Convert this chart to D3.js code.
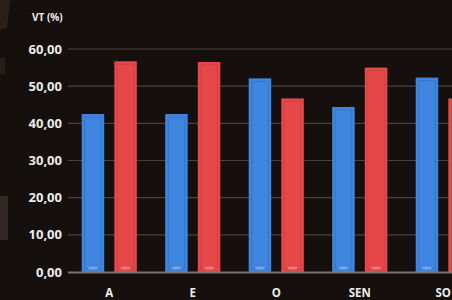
<!DOCTYPE html>
<html>
<head>
<meta charset="utf-8">
<script src="https://d3js.org/d3.v7.min.js"></script>
<style>
  html, body { margin: 0; padding: 0; background: #15100d; overflow: hidden; }
  svg { display: block; }
</style>
</head>
<body>
<div id="chart"></div>
<script>
// chart data
const categories = ["A", "E", "O", "SEN", "SO"];
const seriesNames = ["s1", "s2"];
const blueValues = [42.5, 42.5, 52.1, 44.4, 52.3];
const redValues = [56.7, 56.5, 46.7, 55.0, 46.7];
const yTicks = [0, 10, 20, 30, 40, 50, 60];

const width = 452, height = 300;
const colors = {s1: "#3f86e0", s2: "#e6484a"};
const edges = {s1: "#2a62b0", s2: "#b8383a"};

const data = categories.map((c, i) => ({cat: c, s1: blueValues[i], s2: redValues[i]}));

const svg = d3.select("#chart").append("svg")
    .attr("width", width)
    .attr("height", height);

svg.append("rect").attr("width", width).attr("height", height).attr("fill", "#15100d");

// bits of the slide behind, on the left edge
svg.append("path").attr("d", "M0,0 L10,0 L7,28 L0,30 Z").attr("fill", "#3a2c22").attr("opacity", 0.6);
svg.append("rect").attr("x", 0).attr("y", 58).attr("width", 5).attr("height", 16).attr("fill", "#3a2c22").attr("opacity", 0.5);
svg.append("rect").attr("x", 0).attr("y", 196).attr("width", 8).attr("height", 44).attr("fill", "#3a3330").attr("opacity", 0.7);

// scales
const x = d3.scaleBand()
    .domain(categories)
    .range([67.5, 485])
    .paddingInner(0.34)
    .paddingOuter(0.17);

const xSub = d3.scaleBand()
    .domain(seriesNames)
    .range([0, x.bandwidth()])
    .paddingInner(0.31);

const y = d3.scaleLinear()
    .domain([0, 60])
    .range([272, 49]);

// gridlines
svg.append("g")
    .selectAll("line")
    .data(yTicks.filter(t => t > 0))
    .join("line")
    .attr("x1", 68).attr("x2", width)
    .attr("y1", d => y(d)).attr("y2", d => y(d))
    .attr("stroke", "#47423d")
    .attr("stroke-width", 1.2);

// y tick labels
svg.append("g")
    .selectAll("text")
    .data(yTicks)
    .join("text")
    .attr("x", 62)
    .attr("y", d => y(d) + 4.5)
    .attr("text-anchor", "end")
    .attr("fill", "#ececec")
    .attr("font-family", "'Open Sans', 'DejaVu Sans', sans-serif")
    .attr("font-size", "13px")
    .attr("font-weight", "bold")
    .text(d => d.toFixed(2).replace(".", ","));

svg.append("text")
    .attr("x", 32).attr("y", 21)
    .attr("fill", "#ececec")
    .attr("font-family", "'Open Sans', 'DejaVu Sans', sans-serif")
    .attr("font-size", "10px")
    .attr("font-weight", "bold")
    .text("VT (%)");

// bars
const groups = svg.append("g")
    .selectAll("g")
    .data(data)
    .join("g")
    .attr("transform", d => `translate(${x(d.cat)},0)`);

const bars = groups.selectAll("g")
    .data(d => seriesNames.map(k => ({key: k, value: d[k]})))
    .join("g");

bars.append("rect")
    .attr("x", d => xSub(d.key))
    .attr("y", d => y(d.value))
    .attr("width", xSub.bandwidth())
    .attr("height", d => y(0) - y(d.value))
    .attr("fill", d => colors[d.key]);

// inner bevel look
bars.append("rect")
    .attr("x", d => xSub(d.key) + 3)
    .attr("y", d => y(d.value) + 3)
    .attr("width", xSub.bandwidth() - 6)
    .attr("height", d => y(0) - y(d.value) - 6)
    .attr("fill", "none")
    .attr("stroke", d => edges[d.key])
    .attr("stroke-opacity", 0.45)
    .attr("stroke-width", 1);

bars.append("ellipse")
    .attr("cx", d => xSub(d.key) + xSub.bandwidth() / 2)
    .attr("cy", y(0) - 4)
    .attr("rx", 5)
    .attr("ry", 1.5)
    .attr("fill", "#ffffff")
    .attr("opacity", 0.3);

// baseline
svg.append("line")
    .attr("x1", 68).attr("x2", width)
    .attr("y1", y(0) + 0.5).attr("y2", y(0) + 0.5)
    .attr("stroke", "#77726c")
    .attr("stroke-width", 2);

// category labels
svg.append("g")
    .selectAll("text")
    .data(categories)
    .join("text")
    .attr("x", d => x(d) + x.bandwidth() / 2)
    .attr("y", 297)
    .attr("text-anchor", "middle")
    .attr("fill", "#ececec")
    .attr("font-family", "'Open Sans', 'DejaVu Sans', sans-serif")
    .attr("font-size", "11.5px")
    .attr("font-weight", "bold")
    .text(d => d);
</script>
</body>
</html>
